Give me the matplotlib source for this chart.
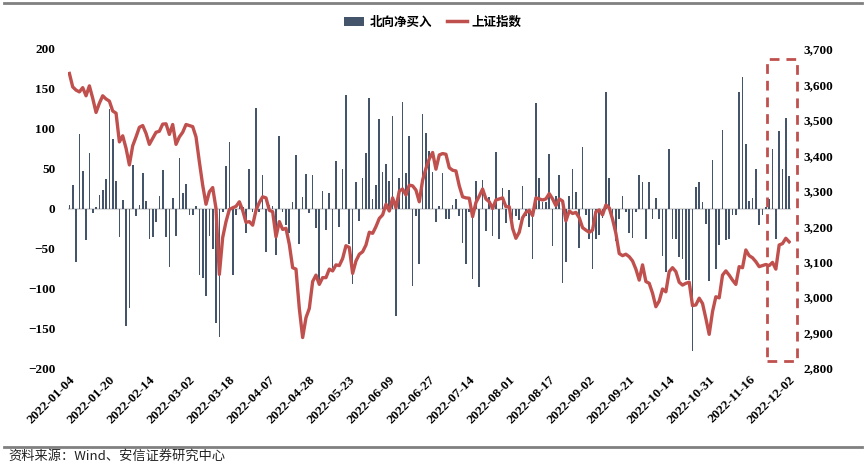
import numpy as np
import matplotlib
matplotlib.use("Agg")
import matplotlib.pyplot as plt
from matplotlib.patches import Patch, Rectangle
from matplotlib.lines import Line2D
from matplotlib.ticker import FuncFormatter

plt.rcParams['font.family'] = ['Noto Sans CJK SC', 'DejaVu Sans']

# northbound net buying (100m CNY), one value per trading day
flow = [4, 29, -67, 93, 47, -40, 69, -6, 2, 17,
        23, 37, 125, 87, 34, -36, 11, -147, -125, 54,
        -9, 4, 45, 9, -38, -36, -17, 16, 48, -36,
        -73, 13, -34, 63, 19, 31, -8, -8, 3, -83,
        -87, -110, -34, -51, -144, -161, -5, 53, 84, -83,
        -8, 3, 2, -31, 49, -4, 126, -4, 42, -54,
        5, 3, -58, 91, -5, -21, -31, 8, 67, -44,
        15, 43, -6, 42, -24, -90, 22, -27, 20, -74,
        59, -23, 50, 142, -45, -95, 33, -16, 38, 70,
        138, 12, 30, 112, 46, 56, 34, 116, -135, 38,
        133, 44, 91, -97, -10, -69, 119, 95, 72, 46,
        -17, 3, 44, -13, -13, 4, 12, -10, -43, -69,
        -5, -89, 34, -98, 36, -28, 15, -34, 71, -38,
        26, -18, 23, -13, -10, -15, 28, -10, -23, -63,
        132, 38, 8, 8, 68, -47, 16, 42, -93, -67,
        16, 50, 21, -50, 77, -8, -38, -76, -38, -33,
        -12, 146, 38, -13, -41, -13, 16, -5, -31, -37,
        -4, 42, 33, -38, 33, -13, 13, -13, -59, -80,
        74, -38, -38, -61, -63, -90, -90, -179, 27, 33,
        8, -20, -91, 61, -76, -46, 99, -40, -38, -8,
        -8, 146, 165, 81, 9, 13, 50, -21, -8, 2,
        12, 74, -38, 97, 49, 114, 41]

# Shanghai composite close
sse = [3631, 3593, 3584, 3579, 3591, 3568, 3596, 3561, 3521, 3547,
       3568, 3559, 3553, 3525, 3519, 3438, 3455, 3420, 3373, 3427,
       3452, 3479, 3484, 3462, 3431, 3448, 3465, 3468, 3488, 3489,
       3459, 3487, 3431, 3452, 3465, 3487, 3484, 3481, 3452, 3382,
       3316, 3262, 3297, 3309, 3250, 3064, 3168, 3213, 3247, 3252,
       3256, 3269, 3245, 3211, 3213, 3203, 3245, 3267, 3283, 3280,
       3245, 3241, 3170, 3213, 3191, 3194, 3149, 3083, 3079, 2968,
       2886, 2942, 2968, 3044, 3062, 3036, 3055, 3055, 3079, 3074,
       3091, 3089, 3109, 3145, 3140, 3067, 3102, 3121, 3128, 3147,
       3183, 3180, 3199, 3222, 3232, 3262, 3243, 3280, 3252, 3299,
       3305, 3288, 3316, 3314, 3302, 3269, 3330, 3363, 3390, 3408,
       3361, 3401, 3405, 3403, 3365, 3358, 3356, 3314, 3283, 3280,
       3279, 3227, 3267, 3285, 3305, 3277, 3269, 3250, 3274, 3277,
       3280, 3255, 3255, 3194, 3166, 3183, 3224, 3239, 3245, 3230,
       3280, 3277, 3274, 3277, 3292, 3277, 3258, 3277, 3271, 3215,
       3243, 3236, 3239, 3224, 3196, 3189, 3183, 3189, 3241, 3246,
       3232, 3260, 3252, 3220, 3180, 3123, 3117, 3121, 3114, 3102,
       3079, 3048, 3091, 3044, 3039, 3011, 2973, 2989, 3023, 3015,
       3072, 3083, 3072, 3042, 3034, 3039, 3042, 2976, 2978, 2997,
       2982, 2940, 2895, 2959, 3001, 2998, 3062, 3074, 3062, 3048,
       3036, 3086, 3083, 3133, 3117, 3111, 3100, 3086, 3089, 3092,
       3089, 3098, 3079, 3147, 3151, 3166, 3156]

tick_labels = ['2022-01-04', '2022-01-20', '2022-02-14', '2022-03-02', '2022-03-18',
               '2022-04-07', '2022-04-28', '2022-05-23', '2022-06-09', '2022-06-27',
               '2022-07-14', '2022-08-01', '2022-08-17', '2022-09-02', '2022-09-21',
               '2022-10-14', '2022-10-31', '2022-11-16', '2022-12-02']

bar_color = '#44546A'
line_color = '#C0504D'
serif = {'family': 'Liberation Serif', 'weight': 'bold'}

x = np.arange(len(flow))

fig = plt.figure(figsize=(8.66, 4.72), dpi=100)
ax = fig.add_axes([0.0782, 0.2203, 0.835, 0.6759])
ax2 = ax.twinx()

ax.axhline(0, color='#D9D9D9', lw=1.5, zorder=1)
ax.bar(x, flow, width=0.5, color=bar_color, zorder=2)
ax2.plot(x, sse, color=line_color, lw=2.4, zorder=3)

ax.set_xlim(-0.5, len(flow) - 0.5)
ax.set_ylim(-200, 200)
ax2.set_ylim(2800, 3700)
ax.set_yticks(range(-200, 201, 50))
ax2.set_yticks(range(2800, 3701, 100))
ax2.yaxis.set_major_formatter(FuncFormatter(lambda v, p: f'{int(v):,}'))

ax.set_xticks(range(0, len(flow), 12))
ax.set_xticklabels(tick_labels, rotation=45, ha='right', rotation_mode='anchor',
                   fontdict=dict(serif, size=9.5))
for lab in ax.get_yticklabels():
    lab.set_fontproperties({**serif, 'size': 9.5})
for lab in ax2.get_yticklabels():
    lab.set_fontproperties({**serif, 'size': 9.5})
ax.tick_params(axis='y', length=0, pad=9)
ax2.tick_params(axis='y', length=0, pad=9)
ax.tick_params(axis='x', length=0, pad=4)

for a in (ax, ax2):
    for s in a.spines.values():
        s.set_visible(False)

# dashed highlight box around the latest days
box = Rectangle((209.4, -191), 9.0, 378, fill=False, edgecolor=line_color,
                lw=2.0, linestyle=(0, (3.5, 2.5)), transform=ax.transData,
                clip_on=False, zorder=5)
ax2.add_patch(box)

handles = [Patch(facecolor=bar_color, edgecolor='none'),
           Line2D([], [], color=line_color, lw=2.5)]
fig.legend(handles, ['北向净买入', '上证指数'], loc='center', ncol=2,
           bbox_to_anchor=(0.5, 1 - 22 / 472), frameon=False,
           prop={'size': 9, 'weight': 'bold'}, handlelength=1.6,
           handleheight=0.7, columnspacing=1.2, handletextpad=0.4)

fig.add_artist(Line2D([0.005, 0.995], [1 - 3 / 472] * 2, color='#808080', lw=2))
fig.add_artist(Line2D([0.005, 0.995], [1 - 447 / 472] * 2, color='#808080', lw=2))
fig.text(8 / 866, 1 - 456 / 472, '资料来源：Wind、安信证券研究中心', fontsize=9.5,
         va='center', ha='left', color='#222222')

fig.savefig('out.png', dpi=100)
